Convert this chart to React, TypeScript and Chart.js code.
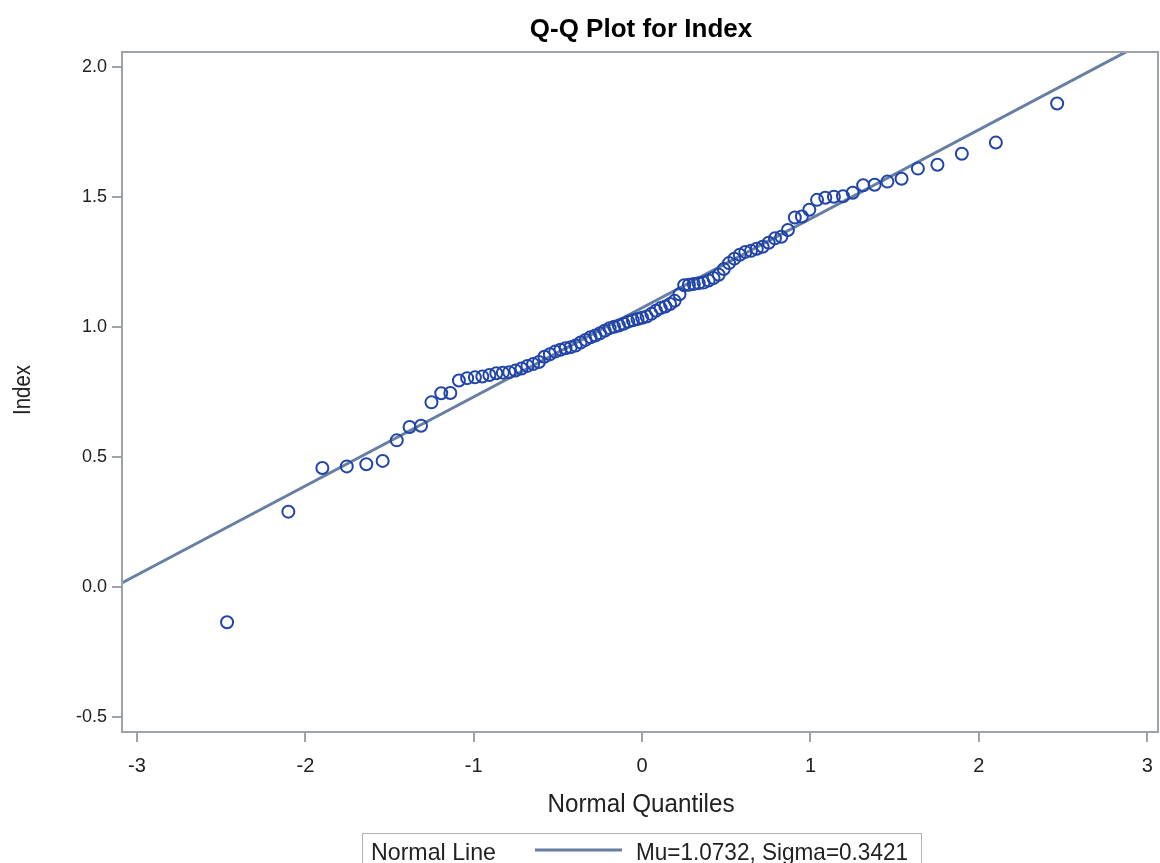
import React, { useEffect, useRef } from "react";
import { Chart, registerables } from "chart.js";

Chart.register(...registerables);

// ---- data ----
const chartTitle = "Q-Q Plot for Index";
const xAxisTitle = "Normal Quantiles";
const yAxisTitle = "Index";
const legendTitle = "Normal Line";
const legendText = "Mu=1.0732, Sigma=0.3421";

// Normal quantiles (Blom, n = 91)
const normalQuantiles = [
  -2.465, -2.101, -1.899, -1.754, -1.638, -1.541, -1.457, -1.381, -1.313, -1.251,
  -1.193, -1.139, -1.088, -1.039, -0.993, -0.949, -0.907, -0.866, -0.827, -0.789,
  -0.752, -0.716, -0.681, -0.647, -0.613, -0.58, -0.548, -0.516, -0.485, -0.455,
  -0.424, -0.395, -0.365, -0.336, -0.307, -0.278, -0.25, -0.222, -0.193, -0.166,
  -0.138, -0.11, -0.082, -0.055, -0.027, 0,
  0.027, 0.055, 0.082, 0.11, 0.138, 0.166, 0.193, 0.222, 0.25, 0.278,
  0.307, 0.336, 0.365, 0.395, 0.424, 0.455, 0.485, 0.516, 0.548, 0.58,
  0.613, 0.647, 0.681, 0.716, 0.752, 0.789, 0.827, 0.866, 0.907, 0.949,
  0.993, 1.039, 1.088, 1.139, 1.193, 1.251, 1.313, 1.381, 1.457, 1.541,
  1.638, 1.754, 1.899, 2.101, 2.465,
];

// Sorted Index values
const indexValues = [
  -0.135, 0.29, 0.458, 0.464, 0.472, 0.485, 0.564, 0.615, 0.62, 0.71,
  0.745, 0.746, 0.794, 0.803, 0.806, 0.809, 0.815, 0.822, 0.824, 0.826,
  0.832, 0.84, 0.85, 0.857, 0.865, 0.885, 0.895, 0.905, 0.912, 0.918,
  0.922, 0.928, 0.94, 0.95, 0.96, 0.967, 0.975, 0.985, 0.995, 1.0,
  1.005, 1.012, 1.02, 1.025, 1.03, 1.035,
  1.04, 1.05, 1.062, 1.072, 1.078, 1.088, 1.1, 1.125, 1.16, 1.162,
  1.165, 1.168, 1.17, 1.178, 1.188, 1.2, 1.222, 1.245, 1.262, 1.277,
  1.288, 1.292, 1.3, 1.308, 1.323, 1.34, 1.346, 1.372, 1.42, 1.424,
  1.45, 1.488, 1.496, 1.5, 1.502, 1.515, 1.544, 1.546, 1.558, 1.569,
  1.608, 1.623, 1.665, 1.708, 1.858,
];

// Normal reference line endpoints (Mu + Sigma * q)
const lineX = [-3.1, 3.1];
const lineY = [0.0127, 2.1337];

const xTicks = [-3, -2, -1, 0, 1, 2, 3];
const xTickLabels = ["-3", "-2", "-1", "0", "1", "2", "3"];
const yTicks = [-0.5, 0, 0.5, 1, 1.5, 2];
const yTickLabels = ["-0.5", "0.0", "0.5", "1.0", "1.5", "2.0"];

// ---- styles ----
const FRAME = "#9ea3a8";
const LINE_COLOR = "#667fa2";
const MARKER = "#2145a8";
const TEXT = "#222222";
const SANS = '"Liberation Sans", Arial, sans-serif';

const decor = {
  id: "decor",
  afterDraw(chart: any) {
    const { ctx, chartArea } = chart;
    const { left, top, right, bottom } = chartArea;
    ctx.save();
    ctx.strokeStyle = FRAME;
    ctx.lineWidth = 2;
    ctx.strokeRect(left, top, right - left, bottom - top);

    ctx.fillStyle = "#000";
    ctx.textAlign = "center";
    ctx.textBaseline = "alphabetic";
    ctx.font = `bold 26px ${SANS}`;
    ctx.fillText(chartTitle, 641, 37, 238);

    ctx.fillStyle = TEXT;
    ctx.font = `25px ${SANS}`;
    ctx.fillText(xAxisTitle, 641, 812, 187);

    ctx.save();
    ctx.translate(30, 390);
    ctx.rotate(-Math.PI / 2);
    ctx.font = `23px ${SANS}`;
    ctx.fillText(yAxisTitle, 0, 0, 50);
    ctx.restore();

    // legend box
    ctx.strokeStyle = "#b0b4b8";
    ctx.lineWidth = 1;
    ctx.strokeRect(362.5, 833.5, 559, 40);
    ctx.textAlign = "left";
    ctx.font = `24px ${SANS}`;
    ctx.fillStyle = TEXT;
    ctx.fillText(legendTitle, 371, 860, 125);
    ctx.strokeStyle = LINE_COLOR;
    ctx.lineWidth = 3;
    ctx.beginPath();
    ctx.moveTo(535, 850);
    ctx.lineTo(622, 850);
    ctx.stroke();
    ctx.fillText(legendText, 636, 860, 272);
    ctx.restore();
  },
};

export default function App() {
  const ref = useRef<HTMLCanvasElement | null>(null);

  useEffect(() => {
    if (!ref.current) return;
    const chart = new Chart(ref.current, {
      type: "scatter",
      data: {
        datasets: [
          {
            label: "Normal Line",
            data: lineX.map((x, i) => ({ x, y: lineY[i] })),
            showLine: true,
            borderColor: LINE_COLOR,
            borderWidth: 3,
            pointRadius: 0,
            order: 2,
          },
          {
            label: "Index",
            data: normalQuantiles.map((x, i) => ({ x, y: indexValues[i] })),
            showLine: false,
            pointStyle: "circle",
            pointRadius: 6,
            pointBorderWidth: 2,
            borderColor: MARKER,
            backgroundColor: "rgba(0,0,0,0)",
            pointBackgroundColor: "rgba(0,0,0,0)",
            order: 1,
          },
        ],
      },
      options: {
        responsive: false,
        animation: false,
        layout: { autoPadding: false, padding: { top: 52, right: 2, bottom: 0, left: 0 } },
        plugins: {
          legend: { display: false },
          tooltip: { enabled: false },
          title: { display: false },
        },
        scales: {
          x: {
            type: "linear",
            min: -3.089,
            max: 3.064,
            afterBuildTicks: (s: any) => {
              s.ticks = xTicks.map((v) => ({ value: v }));
            },
            afterFit: (s: any) => {
              s.height = 131;
              s.paddingLeft = 0;
              s.paddingRight = 0;
            },
            ticks: {
              autoSkip: false,
              maxRotation: 0,
              padding: 12,
              color: TEXT,
              font: { family: SANS, size: 20 },
              callback: (_v: any, i: number) => xTickLabels[i],
            },
            grid: {
              drawOnChartArea: false,
              drawTicks: true,
              tickLength: 10,
              color: FRAME,
              lineWidth: 2,
            },
            border: { display: true, color: FRAME, width: 2 },
          },
          y: {
            type: "linear",
            min: -0.5565,
            max: 2.056,
            afterBuildTicks: (s: any) => {
              s.ticks = yTicks.map((v) => ({ value: v }));
            },
            afterFit: (s: any) => {
              s.width = 122;
              s.paddingTop = 0;
              s.paddingBottom = 0;
            },
            ticks: {
              autoSkip: false,
              padding: 5,
              color: TEXT,
              font: { family: SANS, size: 18 },
              callback: (_v: any, i: number) => yTickLabels[i],
            },
            grid: {
              drawOnChartArea: false,
              drawTicks: true,
              tickLength: 10,
              color: FRAME,
              lineWidth: 2,
            },
            border: { display: true, color: FRAME, width: 2 },
          },
        },
      },
      plugins: [decor],
    });
    return () => chart.destroy();
  }, []);

  return (
    <div style={{ position: "absolute", left: 0, top: 0, width: 1160, height: 863, background: "#fff" }}>
      <canvas ref={ref} width={1160} height={863} />
    </div>
  );
}
